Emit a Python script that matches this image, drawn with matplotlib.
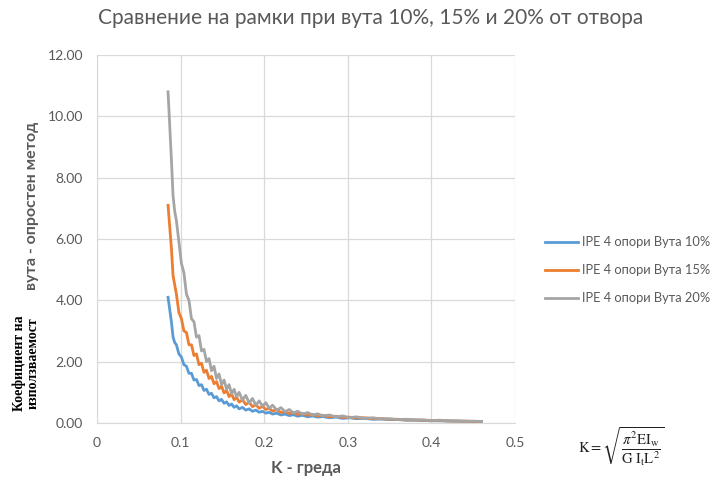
import matplotlib
matplotlib.use("Agg")
import matplotlib.pyplot as plt

plt.rcParams["font.family"] = ["Lato", "DejaVu Sans"]
plt.rcParams["mathtext.fontset"] = "stix"

# ── данни ─────────────────────────────────────────────
x_k = [0.085, 0.089, 0.091, 0.093, 0.095, 0.098, 0.101, 0.104, 0.107, 0.110,
       0.113, 0.116, 0.119, 0.122, 0.125, 0.128, 0.131, 0.134, 0.137, 0.140,
       0.143, 0.146, 0.149, 0.152, 0.155, 0.158, 0.161, 0.164, 0.167, 0.170,
       0.174, 0.178, 0.182, 0.186, 0.190, 0.194, 0.198, 0.202, 0.206, 0.210,
       0.215, 0.220, 0.225, 0.230, 0.235, 0.240, 0.246, 0.252, 0.258, 0.264,
       0.270, 0.278, 0.286, 0.294, 0.302, 0.310, 0.320, 0.330, 0.340, 0.350,
       0.360, 0.370, 0.380, 0.390, 0.400, 0.410, 0.420, 0.430, 0.440, 0.450,
       0.460]

vuta10 = [4.10, 3.30, 2.80, 2.62, 2.55, 2.25, 2.15, 1.90, 1.85, 1.62,
          1.62, 1.40, 1.42, 1.22, 1.25, 1.06, 1.10, 0.93, 0.97, 0.82,
          0.86, 0.72, 0.77, 0.64, 0.69, 0.57, 0.62, 0.51, 0.56, 0.46,
          0.51, 0.42, 0.46, 0.38, 0.42, 0.35, 0.38, 0.32, 0.35, 0.29,
          0.32, 0.26, 0.29, 0.24, 0.27, 0.22, 0.25, 0.20, 0.23, 0.19,
          0.21, 0.17, 0.19, 0.15, 0.17, 0.14, 0.15, 0.12, 0.13, 0.11,
          0.11, 0.09, 0.09, 0.08, 0.07, 0.07, 0.06, 0.06, 0.05, 0.05,
          0.04]

vuta15 = [7.10, 5.70, 4.80, 4.50, 4.20, 3.60, 3.40, 3.00, 2.95, 2.55,
          2.55, 2.20, 2.25, 1.90, 1.95, 1.65, 1.72, 1.45, 1.52, 1.28,
          1.35, 1.12, 1.20, 0.98, 1.06, 0.86, 0.95, 0.76, 0.85, 0.68,
          0.76, 0.60, 0.68, 0.53, 0.60, 0.48, 0.54, 0.44, 0.48, 0.39,
          0.43, 0.34, 0.38, 0.31, 0.34, 0.28, 0.31, 0.25, 0.28, 0.23,
          0.25, 0.20, 0.22, 0.18, 0.19, 0.16, 0.17, 0.14, 0.14, 0.12,
          0.12, 0.10, 0.10, 0.09, 0.08, 0.08, 0.07, 0.06, 0.06, 0.05,
          0.05]

vuta20 = [10.80, 8.60, 7.40, 6.90, 6.60, 5.90, 5.20, 4.90, 4.20, 4.00,
          3.40, 3.30, 2.80, 2.85, 2.35, 2.40, 2.00, 2.10, 1.70, 1.85,
          1.45, 1.60, 1.25, 1.40, 1.10, 1.25, 0.95, 1.10, 0.85, 1.00,
          0.75, 0.90, 0.65, 0.80, 0.58, 0.72, 0.55, 0.66, 0.48, 0.58,
          0.42, 0.50, 0.37, 0.44, 0.33, 0.38, 0.29, 0.34, 0.26, 0.30,
          0.23, 0.26, 0.20, 0.23, 0.17, 0.20, 0.15, 0.17, 0.13, 0.14,
          0.11, 0.12, 0.10, 0.10, 0.08, 0.09, 0.07, 0.07, 0.06, 0.06,
          0.05]

series_names = ["IPE 4 опори Вута 10%", "IPE 4 опори Вута 15%", "IPE 4 опори Вута 20%"]
series_colors = ["#5B9BD5", "#ED7D31", "#A5A5A5"]

x_ticks = [0, 0.1, 0.2, 0.3, 0.4, 0.5]
x_tick_labels = ["0", "0.1", "0.2", "0.3", "0.4", "0.5"]
y_ticks = [0, 2, 4, 6, 8, 10, 12]

TXT = "#595959"
GRID = "#D9D9D9"

# ── платно ────────────────────────────────────────────
fig = plt.figure(figsize=(7.27, 4.8), dpi=100)
ax = fig.add_axes([0.1334, 0.1188, 0.575, 0.7666])

for ys, name, col in zip([vuta10, vuta15, vuta20], series_names, series_colors):
    ax.plot(x_k, ys, color=col, lw=2.0, label=name, solid_joinstyle="round")

ax.set_xlim(0, 0.5)
ax.set_ylim(0, 12)
ax.set_xticks(x_ticks)
ax.set_xticklabels(x_tick_labels)
ax.set_yticks(y_ticks)
ax.set_yticklabels([f"{v:.2f}" for v in y_ticks])
ax.tick_params(length=0, labelsize=10, colors=TXT)
ax.tick_params(axis="x", pad=10)
ax.tick_params(axis="y", pad=10)
ax.grid(True, color=GRID, lw=0.9)
ax.set_axisbelow(True)
for s in ax.spines.values():
    s.set_visible(False)
ax.spines["left"].set_visible(True)
ax.spines["bottom"].set_visible(True)
ax.spines["left"].set_color(GRID)
ax.spines["bottom"].set_color(GRID)

# заглавие
fig.text(0.51, 0.962, "Сравнение на рамки при вута 10%, 15% и 20% от отвора",
         ha="center", va="center", fontsize=15, color=TXT)

# ос X
fig.text(0.421, 0.026, "K - греда", ha="center", va="center",
         fontsize=12, fontweight="bold", color=TXT)

# ос Y (две части, различен шрифт)
fig.text(0.044, 0.571, "вута - опростен метод", rotation=90, ha="center",
         va="center", fontsize=11.5, fontweight="bold", color=TXT)
fig.text(0.027, 0.243, "Коефициент на", rotation=90, ha="center", va="center",
         fontsize=10, fontweight="bold", color="black",
         family=["Liberation Serif", "DejaVu Serif"])
fig.text(0.045, 0.243, "използваемост", rotation=90, ha="center", va="center",
         fontsize=10, fontweight="bold", color="black",
         family=["Liberation Serif", "DejaVu Serif"])

# легенда
ax.legend(loc="center left", bbox_to_anchor=(1.045, 0.415), frameon=False,
          fontsize=9.3, labelcolor=TXT, handlelength=2.5, handletextpad=0.3,
          labelspacing=1.25)

# формула
fig.text(0.855, 0.069, r"$\mathrm{K}=\sqrt{\dfrac{\pi^{2}\mathrm{EI_w}}{\mathrm{G\ I_tL^{2}}}}$",
         ha="center", va="center", fontsize=10.5, color="#222222")

plt.savefig("out.png", dpi=100)
